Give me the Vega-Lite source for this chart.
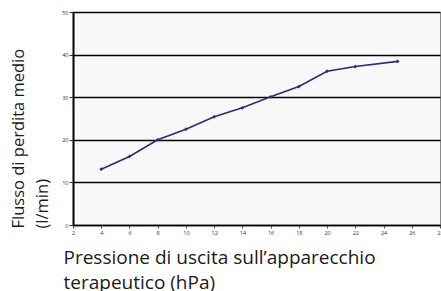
{
  "$schema": "https://vega.github.io/schema/vega-lite/v6.json",
  "width": 367,
  "height": 213,
  "autosize": {"type": "none"},
  "padding": {"left": 73, "top": 12, "right": 1, "bottom": 66},
  "background": "white",
  "config": {
    "font": "Open Sans",
    "view": {"fill": "#f8f8f8", "stroke": "#8a8a8a", "strokeWidth": 1}
  },
  "data": {
    "values": [
      {"p": 4, "f": 13.1},
      {"p": 6, "f": 16.1},
      {"p": 8, "f": 20.0},
      {"p": 10, "f": 22.5},
      {"p": 12, "f": 25.4},
      {"p": 14, "f": 27.5},
      {"p": 16, "f": 30.1},
      {"p": 18, "f": 32.5},
      {"p": 20, "f": 36.1},
      {"p": 22, "f": 37.2},
      {"p": 25, "f": 38.4}
    ]
  },
  "encoding": {
    "x": {
      "field": "p", "type": "quantitative",
      "scale": {"domain": [2, 28], "nice": false, "zero": false},
      "axis": {
        "values": [2,4,6,8,10,12,14,16,18,20,22,24,26,28],
        "labelOverlap": false, "labelFlush": false, "labelBound": false,
        "grid": false,
        "domainColor": "black", "domainWidth": 1.5,
        "tickColor": "#555", "tickSize": 3,
        "labelFontSize": 5.5, "labelColor": "#333", "labelPadding": 2,
        "title": ["Pressione di uscita sull’apparecchio", "terapeutico (hPa)"],
        "titleFontSize": 19, "titleFontWeight": "normal", "titleColor": "#1a1a1a",
        "titleAnchor": "start", "titleAlign": "left", "titleBaseline": "alphabetic",
        "titleX": -10, "titleY": 38, "titleLineHeight": 25
      }
    },
    "y": {
      "field": "f", "type": "quantitative",
      "scale": {"domain": [0, 50], "nice": false},
      "axis": {
        "values": [0,10,20,30,40,50],
        "labelOverlap": false, "labelFlush": false,
        "grid": true, "gridColor": "black", "gridWidth": 1.3,
        "domainColor": "black", "domainWidth": 2,
        "tickColor": "#333", "tickSize": 4,
        "labelFontSize": 5.5, "labelColor": "#333", "labelPadding": 1,
        "title": ["Flusso di perdita medio", "(l/min)"],
        "titleFontSize": 16.5, "titleFontWeight": "normal", "titleColor": "#1a1a1a",
        "titleAngle": -90, "titleAnchor": "start", "titleAlign": "left", "titleBaseline": "alphabetic",
        "titleX": -50, "titleY": 216, "titleLineHeight": 24
      }
    }
  },
  "layer": [
    {
      "mark": {"type": "line", "color": "#2c2a7a", "strokeWidth": 1.6}
    },
    {
      "mark": {"type": "point", "shape": "diamond", "filled": true, "color": "#2c2a7a", "size": 14, "opacity": 1}
    }
  ]
}
